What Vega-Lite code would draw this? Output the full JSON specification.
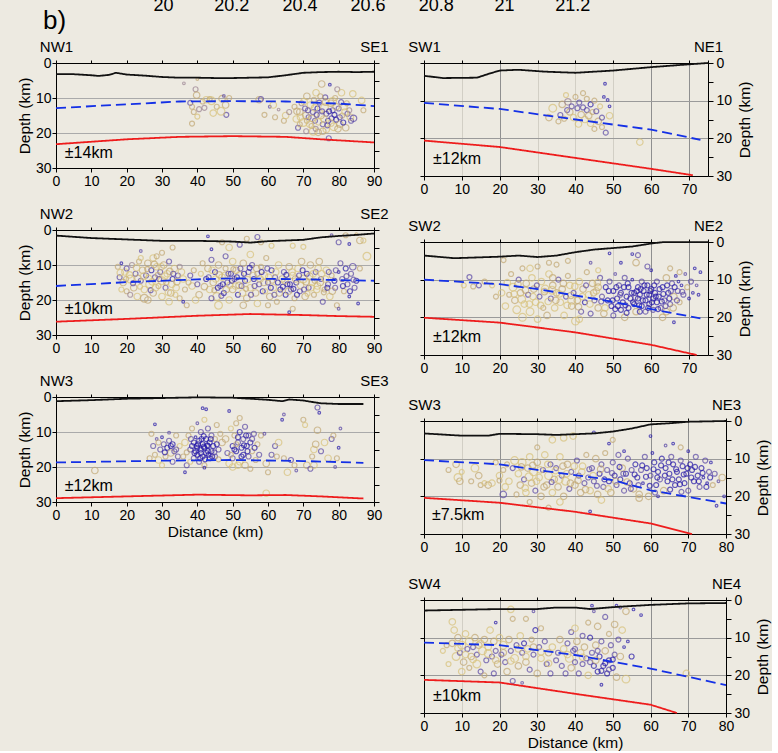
{
  "$schema": "https://vega.github.io/schema/vega-lite/v6.json",
  "background": "#edeae1",
  "padding": {"left": 17, "top": -4, "right": 0, "bottom": 0},
  "config": {
    "font": "Liberation Sans",
    "view": {"stroke": null},
    "axis": {"labelFontSize": 14, "labelColor": "#000", "titleFontSize": 15.5, "titleFontWeight": "normal", "titleColor": "#000", "domainColor": "#000", "tickColor": "#000", "grid": false, "labelFont": "Liberation Sans", "titleFont": "Liberation Sans", "labelFlush": false, "labelOverlap": false},
    "text": {"font": "Liberation Sans"},
    "point": {"filled": false, "strokeWidth": 1.2}
  },
  "datasets": {
    "nw1L": [
      {"k":"t","d":0,"z":3.2},{"k":"t","d":5,"z":3.2},{"k":"t","d":10,"z":3.5},{"k":"t","d":12,"z":3.7},{"k":"t","d":15,"z":3.4},{"k":"t","d":17,"z":2.8},{"k":"t","d":20,"z":3.3},{"k":"t","d":25,"z":3.6},{"k":"t","d":30,"z":4.0},{"k":"t","d":35,"z":4.2},{"k":"t","d":40,"z":4.2},{"k":"t","d":45,"z":4.3},{"k":"t","d":50,"z":4.3},{"k":"t","d":55,"z":4.2},{"k":"t","d":60,"z":4.1},{"k":"t","d":65,"z":3.5},{"k":"t","d":70,"z":2.8},{"k":"t","d":75,"z":2.6},{"k":"t","d":80,"z":2.5},{"k":"t","d":85,"z":2.6},{"k":"t","d":90,"z":2.5},
      {"k":"m","d":0,"z":12.9},{"k":"m","d":20,"z":11.8},{"k":"m","d":35,"z":11},{"k":"m","d":50,"z":10.9},{"k":"m","d":65,"z":11},{"k":"m","d":80,"z":11.6},{"k":"m","d":90,"z":12.3},
      {"k":"r","d":0,"z":23.2},{"k":"r","d":20,"z":21.8},{"k":"r","d":35,"z":21.1},{"k":"r","d":50,"z":20.9},{"k":"r","d":65,"z":21.1},{"k":"r","d":75,"z":21.8},{"k":"r","d":90,"z":22.7}
    ],
    "nw2L": [
      {"k":"t","d":0,"z":1.6},{"k":"t","d":10,"z":2.3},{"k":"t","d":20,"z":2.7},{"k":"t","d":30,"z":3.1},{"k":"t","d":40,"z":3.1},{"k":"t","d":50,"z":3.3},{"k":"t","d":55,"z":3.6},{"k":"t","d":60,"z":3.2},{"k":"t","d":70,"z":2.8},{"k":"t","d":75,"z":2.1},{"k":"t","d":80,"z":1.7},{"k":"t","d":85,"z":1.4},{"k":"t","d":90,"z":1.0},
      {"k":"m","d":0,"z":16},{"k":"m","d":20,"z":14.9},{"k":"m","d":40,"z":14.1},{"k":"m","d":50,"z":13.8},{"k":"m","d":70,"z":14.1},{"k":"m","d":90,"z":14.5},
      {"k":"r","d":0,"z":26.2},{"k":"r","d":20,"z":25.4},{"k":"r","d":40,"z":24.5},{"k":"r","d":55,"z":24},{"k":"r","d":70,"z":24.3},{"k":"r","d":80,"z":24.6},{"k":"r","d":90,"z":24.8}
    ],
    "nw3L": [
      {"k":"t","d":0,"z":1.2},{"k":"t","d":10,"z":0.9},{"k":"t","d":20,"z":0.5},{"k":"t","d":30,"z":0.3},{"k":"t","d":40,"z":0.1},{"k":"t","d":50,"z":0.2},{"k":"t","d":60,"z":0.8},{"k":"t","d":64,"z":1.2},{"k":"t","d":66,"z":0.7},{"k":"t","d":70,"z":1.0},{"k":"t","d":73,"z":1.5},{"k":"t","d":75,"z":1.8},{"k":"t","d":80,"z":2.0},{"k":"t","d":87,"z":2.0},
      {"k":"m","d":0,"z":18.7},{"k":"m","d":30,"z":18.2},{"k":"m","d":50,"z":18},{"k":"m","d":70,"z":18.3},{"k":"m","d":87,"z":18.8},
      {"k":"r","d":0,"z":28.9},{"k":"r","d":20,"z":28.4},{"k":"r","d":40,"z":27.9},{"k":"r","d":55,"z":28.1},{"k":"r","d":65,"z":28},{"k":"r","d":75,"z":28.4},{"k":"r","d":87,"z":29}
    ],
    "sw1L": [
      {"k":"t","d":0,"z":3.4},{"k":"t","d":5,"z":4.0},{"k":"t","d":14,"z":3.9},{"k":"t","d":17,"z":2.9},{"k":"t","d":20,"z":2.0},{"k":"t","d":25,"z":1.8},{"k":"t","d":32,"z":2.3},{"k":"t","d":40,"z":2.6},{"k":"t","d":50,"z":2.0},{"k":"t","d":60,"z":1.1},{"k":"t","d":70,"z":0.35},{"k":"t","d":75,"z":0},
      {"k":"m","d":0,"z":10.6},{"k":"m","d":20,"z":12.2},{"k":"m","d":40,"z":15},{"k":"m","d":60,"z":17.7},{"k":"m","d":73,"z":20.4},
      {"k":"r","d":0,"z":20.6},{"k":"r","d":20,"z":22.3},{"k":"r","d":40,"z":25.2},{"k":"r","d":60,"z":28.1},{"k":"r","d":71,"z":29.8}
    ],
    "sw2L": [
      {"k":"t","d":0,"z":3.6},{"k":"t","d":8,"z":4.3},{"k":"t","d":20,"z":3.9},{"k":"t","d":25,"z":3.6},{"k":"t","d":30,"z":4.0},{"k":"t","d":35,"z":3.6},{"k":"t","d":40,"z":2.7},{"k":"t","d":45,"z":2.0},{"k":"t","d":50,"z":1.6},{"k":"t","d":55,"z":1.2},{"k":"t","d":60,"z":0.4},{"k":"t","d":63,"z":0.05},{"k":"t","d":75,"z":0.05},
      {"k":"m","d":0,"z":10},{"k":"m","d":20,"z":11.2},{"k":"m","d":30,"z":12.5},{"k":"m","d":50,"z":15.9},{"k":"m","d":60,"z":17.8},{"k":"m","d":73,"z":20.3},
      {"k":"r","d":0,"z":20.1},{"k":"r","d":20,"z":21.4},{"k":"r","d":40,"z":24},{"k":"r","d":60,"z":27.3},{"k":"r","d":72,"z":30}
    ],
    "sw3L": [
      {"k":"t","d":0,"z":3.3},{"k":"t","d":10,"z":3.9},{"k":"t","d":17,"z":3.9},{"k":"t","d":20,"z":3.4},{"k":"t","d":30,"z":3.5},{"k":"t","d":35,"z":3.7},{"k":"t","d":40,"z":3.5},{"k":"t","d":45,"z":3.3},{"k":"t","d":50,"z":2.8},{"k":"t","d":55,"z":2.0},{"k":"t","d":60,"z":0.9},{"k":"t","d":65,"z":0.6},{"k":"t","d":70,"z":0.2},{"k":"t","d":80,"z":0},
      {"k":"m","d":0,"z":10.4},{"k":"m","d":20,"z":11.5},{"k":"m","d":30,"z":13},{"k":"m","d":50,"z":15.7},{"k":"m","d":60,"z":18.4},{"k":"m","d":80,"z":21.9},
      {"k":"r","d":0,"z":20.4},{"k":"r","d":20,"z":21.7},{"k":"r","d":40,"z":24.1},{"k":"r","d":60,"z":27.2},{"k":"r","d":71,"z":30}
    ],
    "sw4L": [
      {"k":"t","d":0,"z":2.8},{"k":"t","d":10,"z":2.6},{"k":"t","d":20,"z":2.4},{"k":"t","d":30,"z":2.4},{"k":"t","d":35,"z":2.0},{"k":"t","d":40,"z":2.0},{"k":"t","d":44,"z":2.4},{"k":"t","d":50,"z":1.9},{"k":"t","d":60,"z":1.3},{"k":"t","d":70,"z":0.9},{"k":"t","d":80,"z":0.8},
      {"k":"m","d":0,"z":11.3},{"k":"m","d":20,"z":12},{"k":"m","d":40,"z":14.6},{"k":"m","d":60,"z":18.2},{"k":"m","d":80,"z":22.6},
      {"k":"r","d":0,"z":21.2},{"k":"r","d":20,"z":21.9},{"k":"r","d":40,"z":24.9},{"k":"r","d":60,"z":27.8},{"k":"r","d":67,"z":30}
    ],
    "nw1": [
      {"d":36.2,"z":5.8,"c":2,"s":1},{"d":38,"z":11.4,"c":3,"s":2},{"d":38.5,"z":12.5,"c":1,"s":2},{"d":39.5,"z":7.5,"c":2,"s":2},{"d":39.8,"z":9.2,"c":1,"s":3},{"d":40,"z":4.6,"c":1,"s":1},{"d":39,"z":14,"c":1,"s":2},{"d":40.5,"z":13.2,"c":2,"s":2},{"d":41.5,"z":11,"c":1,"s":2},{"d":42,"z":12.8,"c":2,"s":2},{"d":42.5,"z":10.5,"c":0,"s":3},{"d":43.5,"z":10.3,"c":1,"s":2},{"d":44,"z":10.8,"c":0,"s":4},{"d":44.5,"z":14.3,"c":0,"s":3},{"d":45.5,"z":12.5,"c":1,"s":2},{"d":47,"z":10.2,"c":1,"s":3},{"d":47.5,"z":9.4,"c":3,"s":1},{"d":48,"z":12,"c":1,"s":3},{"d":48.2,"z":14.8,"c":3,"s":2},{"d":49,"z":10,"c":1,"s":2},{"d":38.5,"z":17.3,"c":1,"s":2},{"d":40,"z":15.3,"c":0,"s":2},{"d":46.7,"z":13.8,"c":0,"s":4},
      {"d":57.5,"z":10.5,"c":1,"s":3},{"d":58,"z":10.3,"c":3,"s":2},{"d":59,"z":14.8,"c":1,"s":2},{"d":60.5,"z":12.5,"c":3,"s":1},{"d":61.5,"z":12,"c":0,"s":3},{"d":62,"z":15.5,"c":1,"s":2},{"d":63,"z":13.3,"c":2,"s":1},{"d":64.5,"z":16.5,"c":1,"s":2},{"d":65,"z":15,"c":0,"s":3},{"d":66,"z":14,"c":2,"s":2},
      {"d":67.5,"z":12.5,"c":1,"s":2},{"d":68,"z":16,"c":0,"s":3},{"d":68.5,"z":18.5,"c":3,"s":2},{"d":69,"z":14,"c":1,"s":3},{"d":69.5,"z":11.5,"c":2,"s":2},{"d":70,"z":17,"c":0,"s":4},{"d":70.5,"z":13,"c":3,"s":2},{"d":70.8,"z":19.5,"c":2,"s":2},{"d":71,"z":9.5,"c":1,"s":3},{"d":71.5,"z":15.5,"c":3,"s":2},{"d":72,"z":12,"c":0,"s":3},{"d":72.3,"z":18,"c":1,"s":2},{"d":72.7,"z":14,"c":3,"s":2},{"d":73,"z":10.5,"c":1,"s":2},{"d":73.3,"z":16.5,"c":3,"s":2},{"d":73.6,"z":8.5,"c":0,"s":3},{"d":74,"z":13,"c":4,"s":2},{"d":74.2,"z":19.8,"c":1,"s":3},{"d":74.5,"z":11.3,"c":3,"s":2},{"d":75,"z":15,"c":1,"s":3},{"d":75.2,"z":6,"c":1,"s":3},{"d":75.5,"z":17.5,"c":3,"s":2},{"d":76,"z":12.8,"c":0,"s":4},{"d":76.2,"z":9.8,"c":3,"s":2},{"d":76.5,"z":14.5,"c":3,"s":2},{"d":77,"z":16.5,"c":4,"s":2},{"d":77.2,"z":21.5,"c":3,"s":2},{"d":77.5,"z":6.2,"c":4,"s":1},{"d":77.8,"z":11.5,"c":1,"s":3},{"d":78,"z":15.8,"c":3,"s":2},{"d":78.3,"z":13.5,"c":3,"s":2},{"d":78.6,"z":18.2,"c":0,"s":4},{"d":79,"z":10,"c":1,"s":2},{"d":79.3,"z":16.2,"c":4,"s":2},{"d":79.6,"z":7.5,"c":2,"s":2},{"d":80,"z":13,"c":3,"s":2},{"d":80.3,"z":17.5,"c":1,"s":3},{"d":80.7,"z":11.2,"c":3,"s":2},{"d":81,"z":15,"c":1,"s":2},{"d":81.5,"z":12.5,"c":0,"s":3},{"d":82,"z":18.5,"c":1,"s":3},{"d":82.5,"z":14.5,"c":3,"s":2},{"d":83,"z":13.5,"c":2,"s":2},{"d":83.5,"z":16.5,"c":3,"s":2},{"d":84,"z":8.8,"c":0,"s":3},{"d":86.5,"z":10.7,"c":0,"s":3},{"d":87,"z":13.5,"c":1,"s":2},{"d":76.5,"z":19,"c":0,"s":3},{"d":73.5,"z":18.8,"c":2,"s":2},{"d":71,"z":16.5,"c":1,"s":2},{"d":69,"z":17.5,"c":1,"s":2},
      {"d":68.2,"z":13.8,"c":1,"s":3},{"d":69.2,"z":15.5,"c":0,"s":3},{"d":70.2,"z":11,"c":0,"s":3},{"d":70.7,"z":15,"c":1,"s":3},{"d":71.3,"z":13.5,"c":3,"s":2},{"d":71.8,"z":17.5,"c":0,"s":3},{"d":72.5,"z":15.8,"c":1,"s":3},{"d":73.2,"z":12.8,"c":0,"s":3},{"d":73.8,"z":14.8,"c":3,"s":2},{"d":74.3,"z":16.8,"c":0,"s":3},{"d":74.8,"z":9.5,"c":1,"s":2},{"d":75.3,"z":13.8,"c":3,"s":2},{"d":75.8,"z":16,"c":0,"s":3},{"d":76.3,"z":11.2,"c":1,"s":3},{"d":76.8,"z":17.8,"c":3,"s":2},{"d":77.3,"z":13.8,"c":4,"s":2},{"d":77.8,"z":17.2,"c":0,"s":3},{"d":78.3,"z":11,"c":0,"s":4},{"d":78.8,"z":14.8,"c":4,"s":2},{"d":79.3,"z":12.5,"c":1,"s":3},{"d":79.8,"z":18.8,"c":1,"s":3},{"d":80.3,"z":15.5,"c":3,"s":2},{"d":80.8,"z":8.5,"c":0,"s":3},{"d":81.3,"z":17,"c":4,"s":2},{"d":81.8,"z":14,"c":0,"s":3},{"d":82.3,"z":11.5,"c":1,"s":2},{"d":83.3,"z":15.5,"c":0,"s":3},{"d":84.2,"z":15.8,"c":3,"s":3},{"d":72.8,"z":19.5,"c":0,"s":4},{"d":75.5,"z":19.5,"c":1,"s":3}
    ],
    "nw2": [
      {"d":43,"z":1.8,"c":4,"s":1},{"d":44,"z":5.5,"c":4,"s":1},{"d":47,"z":3.5,"c":1,"s":2},{"d":49,"z":5,"c":0,"s":3},{"d":52,"z":4.2,"c":3,"s":2},{"d":54,"z":2.5,"c":1,"s":2},{"d":57,"z":2,"c":3,"s":2},{"d":58,"z":3.5,"c":1,"s":2},{"d":61,"z":4.5,"c":0,"s":2},{"d":67,"z":4.5,"c":0,"s":2},{"d":70,"z":4.8,"c":0,"s":2},{"d":78,"z":1.5,"c":3,"s":1},{"d":80,"z":3.5,"c":3,"s":2},{"d":82,"z":1.5,"c":1,"s":2},{"d":83,"z":4,"c":4,"s":1},{"d":86,"z":3,"c":1,"s":3},{"d":87,"z":3,"c":0,"s":2},{"d":85,"z":1.2,"c":1,"s":1},{"d":88,"z":7.5,"c":0,"s":4},{"d":30,"z":6.5,"c":1,"s":2},{"d":33,"z":5,"c":1,"s":2},{"d":24,"z":6,"c":3,"s":1},
      {"d":17.5,"z":10.5,"c":1,"s":2},{"d":18,"z":13.5,"c":3,"s":2},{"d":18.5,"z":9.5,"c":4,"s":1},{"d":19,"z":15,"c":1,"s":3},{"d":19.5,"z":12,"c":0,"s":3},{"d":20,"z":17.5,"c":1,"s":2},{"d":20,"z":11,"c":3,"s":2},{"d":18.5,"z":17,"c":0,"s":2},
      {"d":21,"z":14,"c":0,"s":4},{"d":21.5,"z":10,"c":2,"s":2},{"d":22,"z":16.5,"c":1,"s":3},{"d":22.5,"z":12.5,"c":3,"s":2},{"d":23,"z":19,"c":0,"s":3},{"d":23.5,"z":9,"c":1,"s":2},{"d":24,"z":14.5,"c":3,"s":2},{"d":24.5,"z":11.5,"c":1,"s":3},{"d":25,"z":17,"c":0,"s":3},{"d":25,"z":19.5,"c":1,"s":4},{"d":21,"z":18.5,"c":2,"s":2},{"d":24,"z":8,"c":0,"s":2},
      {"d":25.5,"z":13,"c":3,"s":2},{"d":26,"z":9.5,"c":1,"s":3},{"d":26.5,"z":15.5,"c":0,"s":4},{"d":27,"z":11.5,"c":4,"s":2},{"d":27.5,"z":8,"c":0,"s":3},{"d":27.5,"z":18,"c":1,"s":3},{"d":28,"z":13.5,"c":3,"s":2},{"d":28.5,"z":10.5,"c":0,"s":3},{"d":29,"z":16,"c":1,"s":2},{"d":29.5,"z":12,"c":3,"s":2},{"d":30,"z":19,"c":0,"s":3},{"d":30,"z":14.5,"c":0,"s":4},{"d":26,"z":20,"c":1,"s":3},{"d":28.5,"z":7.5,"c":1,"s":2},
      {"d":30.5,"z":10,"c":1,"s":3},{"d":31,"z":16.5,"c":3,"s":2},{"d":31.5,"z":12.5,"c":0,"s":3},{"d":32,"z":9,"c":3,"s":2},{"d":32.5,"z":18,"c":1,"s":3},{"d":33,"z":14,"c":4,"s":2},{"d":33.5,"z":11,"c":0,"s":3},{"d":34,"z":16.5,"c":0,"s":3},{"d":34.5,"z":13,"c":3,"s":2},{"d":35,"z":19.5,"c":1,"s":2},{"d":32,"z":20.5,"c":0,"s":3},{"d":35,"z":10.5,"c":2,"s":2},
      {"d":36,"z":14,"c":0,"s":3},{"d":36.5,"z":17,"c":1,"s":2},{"d":37,"z":21.5,"c":1,"s":2},{"d":38,"z":13,"c":3,"s":2},{"d":38.5,"z":16,"c":0,"s":3},{"d":39,"z":11.5,"c":1,"s":2},{"d":40,"z":15.5,"c":3,"s":2},{"d":40.5,"z":18.5,"c":1,"s":3},{"d":41,"z":12.5,"c":0,"s":2},{"d":41.5,"z":9.5,"c":1,"s":2},{"d":36,"z":20.5,"c":4,"s":1},{"d":39.5,"z":20,"c":0,"s":3},
      {"d":42.5,"z":14,"c":4,"s":2},{"d":43,"z":11,"c":1,"s":3},{"d":43.5,"z":17,"c":0,"s":3},{"d":44,"z":8.5,"c":3,"s":2},{"d":44.5,"z":15,"c":1,"s":3},{"d":45,"z":12,"c":4,"s":2},{"d":45.5,"z":19,"c":0,"s":4},{"d":46,"z":10,"c":1,"s":3},{"d":46.5,"z":16,"c":3,"s":2},{"d":47,"z":13.5,"c":0,"s":3},{"d":47.5,"z":18,"c":4,"s":2},{"d":48,"z":11,"c":1,"s":2},{"d":48.5,"z":15,"c":3,"s":2},{"d":49,"z":20,"c":0,"s":3},{"d":49.5,"z":12.5,"c":4,"s":2},{"d":50,"z":17,"c":1,"s":3},{"d":50,"z":9,"c":0,"s":3},{"d":46,"z":21.5,"c":0,"s":4},{"d":48,"z":7.5,"c":3,"s":2},{"d":44,"z":19.5,"c":3,"s":2},
      {"d":50.5,"z":14,"c":3,"s":2},{"d":51,"z":11.5,"c":1,"s":3},{"d":51.5,"z":18.5,"c":4,"s":2},{"d":52,"z":13,"c":0,"s":4},{"d":52.5,"z":16,"c":3,"s":2},{"d":53,"z":9.5,"c":1,"s":3},{"d":53.5,"z":14.5,"c":4,"s":2},{"d":54,"z":19.5,"c":1,"s":3},{"d":54.5,"z":12,"c":3,"s":2},{"d":55,"z":16.5,"c":0,"s":3},{"d":55.5,"z":10,"c":3,"s":2},{"d":56,"z":14,"c":4,"s":2},{"d":56.5,"z":18,"c":1,"s":3},{"d":57,"z":21,"c":0,"s":3},{"d":57,"z":12.5,"c":2,"s":2},{"d":53,"z":21.5,"c":1,"s":3},{"d":55,"z":7,"c":0,"s":3},
      {"d":57.5,"z":15.5,"c":3,"s":2},{"d":58,"z":10.5,"c":1,"s":2},{"d":58.5,"z":17.5,"c":4,"s":2},{"d":59,"z":13,"c":0,"s":3},{"d":59.5,"z":8,"c":1,"s":2},{"d":60,"z":15,"c":3,"s":2},{"d":60.5,"z":19,"c":1,"s":3},{"d":61,"z":11.5,"c":4,"s":2},{"d":61.5,"z":16.5,"c":0,"s":3},{"d":62,"z":13.5,"c":3,"s":2},{"d":62.5,"z":20.5,"c":1,"s":2},{"d":63,"z":10,"c":0,"s":3},{"d":63.5,"z":17,"c":4,"s":2},{"d":64,"z":14,"c":1,"s":3},{"d":60,"z":21.5,"c":1,"s":2},
      {"d":64.5,"z":12,"c":3,"s":2},{"d":65,"z":18.5,"c":4,"s":2},{"d":65.5,"z":15.5,"c":4,"s":2},{"d":66,"z":10.5,"c":1,"s":3},{"d":66.5,"z":17,"c":3,"s":2},{"d":67,"z":13,"c":0,"s":3},{"d":67.5,"z":19.5,"c":1,"s":2},{"d":68,"z":15,"c":4,"s":2},{"d":68.5,"z":11,"c":0,"s":3},{"d":69,"z":17.5,"c":3,"s":2},{"d":69.5,"z":9,"c":1,"s":3},{"d":70,"z":14,"c":0,"s":4},{"d":70.5,"z":19,"c":1,"s":3},{"d":71,"z":12.5,"c":4,"s":2},{"d":71.5,"z":16.5,"c":3,"s":2},{"d":72,"z":10,"c":1,"s":3},{"d":67,"z":22.5,"c":1,"s":2},{"d":66,"z":23.5,"c":4,"s":1},
      {"d":72.5,"z":15,"c":0,"s":3},{"d":73,"z":18.5,"c":1,"s":2},{"d":73.5,"z":12,"c":3,"s":2},{"d":74,"z":16,"c":0,"s":3},{"d":74.5,"z":9,"c":1,"s":3},{"d":75,"z":14,"c":3,"s":2},{"d":75.5,"z":20.5,"c":3,"s":2},{"d":76,"z":17,"c":1,"s":2},{"d":76.5,"z":11.5,"c":0,"s":3},{"d":77,"z":15.5,"c":3,"s":2},{"d":77.5,"z":19,"c":0,"s":3},{"d":78,"z":13,"c":1,"s":2},{"d":79,"z":16.5,"c":3,"s":2},{"d":79.5,"z":21.5,"c":1,"s":2},{"d":80,"z":12,"c":4,"s":1},
      {"d":80.5,"z":9.5,"c":3,"s":2},{"d":81,"z":14,"c":3,"s":2},{"d":81.5,"z":17.5,"c":1,"s":2},{"d":82,"z":11,"c":4,"s":2},{"d":82.5,"z":15.5,"c":3,"s":2},{"d":83,"z":19,"c":4,"s":1},{"d":83.5,"z":12.5,"c":3,"s":2},{"d":84,"z":10.5,"c":3,"s":3},{"d":84.5,"z":16.5,"c":3,"s":2},{"d":85,"z":14.5,"c":4,"s":2},{"d":85.5,"z":21,"c":4,"s":1},{"d":80,"z":22.5,"c":3,"s":1},{"d":86,"z":11,"c":1,"s":2},
      {"d":18.2,"z":12.2,"c":0,"s":3},{"d":19.8,"z":14,"c":1,"s":2},{"d":20.8,"z":12.8,"c":0,"s":3},{"d":21.8,"z":15.2,"c":3,"s":2},{"d":22.8,"z":10.8,"c":0,"s":3},{"d":23.2,"z":13.8,"c":1,"s":3},{"d":23.8,"z":16.2,"c":0,"s":2},{"d":24.8,"z":13.2,"c":0,"s":3},{"d":25.8,"z":11.2,"c":1,"s":2},{"d":26.2,"z":13.8,"c":0,"s":3},{"d":26.8,"z":17.2,"c":3,"s":2},{"d":27.2,"z":14.8,"c":0,"s":3},{"d":27.8,"z":9.8,"c":1,"s":3},{"d":28.2,"z":16.5,"c":0,"s":3},{"d":28.8,"z":12.8,"c":1,"s":2},{"d":29.2,"z":14,"c":3,"s":2},{"d":29.8,"z":10.5,"c":0,"s":3},{"d":30.8,"z":13.2,"c":0,"s":3},{"d":31.2,"z":15,"c":1,"s":2},{"d":31.8,"z":17.8,"c":0,"s":3},{"d":32.2,"z":11.8,"c":1,"s":3},{"d":32.8,"z":15.5,"c":0,"s":3},{"d":33.2,"z":12.5,"c":3,"s":2},{"d":33.8,"z":18.5,"c":0,"s":2},{"d":34.2,"z":14.8,"c":1,"s":3},{"d":35.5,"z":12,"c":0,"s":3},{"d":37.5,"z":15,"c":1,"s":2},{"d":42,"z":16.2,"c":1,"s":3},{"d":43.2,"z":13.5,"c":3,"s":2},{"d":44.2,"z":11.5,"c":0,"s":3},{"d":44.8,"z":17.2,"c":1,"s":2},{"d":45.2,"z":14,"c":0,"s":3},{"d":45.8,"z":16.5,"c":4,"s":2},{"d":46.2,"z":12.8,"c":1,"s":3},{"d":46.8,"z":18.8,"c":3,"s":2},{"d":47.2,"z":15.5,"c":4,"s":2},{"d":47.8,"z":13,"c":0,"s":3},{"d":48.2,"z":17,"c":1,"s":3},{"d":48.8,"z":12.5,"c":3,"s":2},{"d":49.2,"z":15.8,"c":0,"s":3},{"d":49.8,"z":14.5,"c":4,"s":2},{"d":50.2,"z":11.2,"c":1,"s":2},{"d":50.8,"z":16,"c":0,"s":3},{"d":51.2,"z":13.5,"c":4,"s":2},{"d":51.8,"z":15.8,"c":1,"s":3},{"d":52.2,"z":11,"c":3,"s":2},{"d":52.8,"z":18,"c":0,"s":3},{"d":53.2,"z":12.5,"c":4,"s":2},{"d":53.8,"z":16.8,"c":1,"s":2},{"d":54.2,"z":14.2,"c":0,"s":3},{"d":54.8,"z":10.8,"c":4,"s":2},{"d":55.2,"z":18.5,"c":3,"s":2},{"d":55.8,"z":13,"c":0,"s":3},{"d":56.2,"z":16,"c":3,"s":2},{"d":56.8,"z":11,"c":1,"s":3},{"d":57.8,"z":14,"c":0,"s":3},{"d":58.2,"z":12,"c":4,"s":2},{"d":58.8,"z":15,"c":1,"s":3},{"d":59.2,"z":17.5,"c":0,"s":2},{"d":59.8,"z":11,"c":3,"s":2},{"d":60.2,"z":13.5,"c":0,"s":3},{"d":60.8,"z":16.5,"c":4,"s":2},{"d":61.2,"z":14.5,"c":1,"s":2},{"d":61.8,"z":18.5,"c":3,"s":2},{"d":62.2,"z":12,"c":0,"s":3},{"d":62.8,"z":15,"c":4,"s":2},{"d":63.2,"z":18,"c":1,"s":3},{"d":64.2,"z":16.2,"c":4,"s":2},{"d":64.8,"z":14.5,"c":0,"s":3},{"d":65.2,"z":12.8,"c":4,"s":2},{"d":65.8,"z":17.5,"c":1,"s":3},{"d":66.2,"z":15.5,"c":4,"s":2},{"d":66.8,"z":12,"c":0,"s":3},{"d":67.2,"z":16.8,"c":4,"s":2},{"d":67.8,"z":14,"c":1,"s":3},{"d":68.2,"z":18.5,"c":4,"s":2},{"d":68.8,"z":13,"c":3,"s":2},{"d":69.2,"z":15.8,"c":0,"s":3},{"d":69.8,"z":11.5,"c":4,"s":2},{"d":70.2,"z":17,"c":3,"s":2},{"d":70.8,"z":14.8,"c":1,"s":3},{"d":71.2,"z":18.2,"c":0,"s":2},{"d":71.8,"z":13.2,"c":1,"s":3},{"d":72.2,"z":16.5,"c":0,"s":3},{"d":72.8,"z":12.5,"c":0,"s":3},{"d":73.2,"z":14.5,"c":1,"s":2},{"d":73.8,"z":17,"c":0,"s":3},{"d":74.2,"z":11,"c":0,"s":3},{"d":74.8,"z":15,"c":1,"s":3},{"d":75.2,"z":12.5,"c":0,"s":3},{"d":75.8,"z":17.8,"c":1,"s":2},{"d":76.2,"z":14,"c":0,"s":3},{"d":76.8,"z":16.5,"c":4,"s":2},{"d":77.2,"z":12,"c":3,"s":2},{"d":78.2,"z":17.5,"c":1,"s":3},{"d":78.8,"z":14.5,"c":4,"s":2},{"d":79.2,"z":11.5,"c":3,"s":2},{"d":81.2,"z":16,"c":4,"s":2},{"d":82.2,"z":13.2,"c":3,"s":2},{"d":83.2,"z":17.5,"c":4,"s":2},{"d":84.2,"z":14.2,"c":3,"s":2}
    ],
    "nw3": [
      {"d":27,"z":10.5,"c":1,"s":2},{"d":27.5,"z":14,"c":3,"s":2},{"d":28,"z":16.5,"c":1,"s":2},{"d":28.5,"z":12,"c":3,"s":1},{"d":29,"z":18,"c":0,"s":3},{"d":29.5,"z":15,"c":3,"s":2},{"d":30,"z":11.5,"c":4,"s":1},{"d":30.5,"z":13.5,"c":3,"s":2},{"d":31,"z":17,"c":1,"s":2},{"d":31.5,"z":14.5,"c":4,"s":2},{"d":32,"z":12.5,"c":3,"s":2},{"d":32.5,"z":16,"c":1,"s":3},{"d":33,"z":18.5,"c":3,"s":2},{"d":33,"z":13.5,"c":4,"s":2},{"d":33.5,"z":15.5,"c":3,"s":2},{"d":34,"z":11,"c":1,"s":2},{"d":34.5,"z":17,"c":3,"s":2},{"d":35,"z":14,"c":0,"s":2},{"d":28,"z":7.8,"c":4,"s":1},{"d":32,"z":10.2,"c":3,"s":1},{"d":30,"z":19.5,"c":0,"s":2},{"d":26.5,"z":17.5,"c":1,"s":2},
      {"d":36,"z":17,"c":1,"s":2},{"d":36.5,"z":13,"c":0,"s":3},{"d":37,"z":19.5,"c":3,"s":2},{"d":37.5,"z":11,"c":1,"s":2},{"d":38,"z":15,"c":3,"s":2},{"d":38.5,"z":9,"c":1,"s":2},{"d":39,"z":13,"c":4,"s":2},{"d":39,"z":17.5,"c":3,"s":2},{"d":39.5,"z":11.5,"c":4,"s":1},{"d":40,"z":14.5,"c":4,"s":2},{"d":40,"z":16.5,"c":4,"s":2},{"d":40.5,"z":12.5,"c":4,"s":2},{"d":40.5,"z":18.5,"c":3,"s":2},{"d":41,"z":15,"c":4,"s":2},{"d":41,"z":10,"c":3,"s":2},{"d":41.5,"z":13.5,"c":4,"s":2},{"d":41.5,"z":17,"c":4,"s":2},{"d":42,"z":14.5,"c":4,"s":2},{"d":42,"z":19.5,"c":1,"s":2},{"d":42.5,"z":12,"c":4,"s":2},{"d":42.5,"z":16,"c":4,"s":2},{"d":43,"z":14,"c":4,"s":2},{"d":43,"z":9,"c":3,"s":2},{"d":43.5,"z":17.5,"c":4,"s":2},{"d":43.5,"z":13,"c":4,"s":2},{"d":44,"z":15.5,"c":4,"s":2},{"d":44,"z":11,"c":3,"s":2},{"d":44.5,"z":14,"c":4,"s":2},{"d":45,"z":17,"c":3,"s":2},{"d":45,"z":12,"c":1,"s":2},{"d":45.5,"z":8,"c":1,"s":2},{"d":46,"z":15,"c":3,"s":2},{"d":46.5,"z":10.5,"c":1,"s":2},{"d":47,"z":13,"c":1,"s":3},{"d":40,"z":7.5,"c":3,"s":1},{"d":42,"z":6.5,"c":0,"s":2},{"d":41.5,"z":3.2,"c":4,"s":1},{"d":42.5,"z":3.5,"c":4,"s":1},{"d":36.5,"z":21.5,"c":4,"s":1},{"d":42,"z":20.2,"c":4,"s":1},{"d":38,"z":18.5,"c":0,"s":2},{"d":39.5,"z":15.5,"c":4,"s":2},{"d":41,"z":16,"c":4,"s":2},{"d":43,"z":15.5,"c":4,"s":2},{"d":41.8,"z":11.2,"c":4,"s":2},
      {"d":48,"z":12,"c":1,"s":3},{"d":48.5,"z":16,"c":3,"s":2},{"d":49,"z":19,"c":0,"s":3},{"d":49.5,"z":9,"c":0,"s":2},{"d":50,"z":14,"c":4,"s":2},{"d":50,"z":17.5,"c":3,"s":2},{"d":50.5,"z":11,"c":1,"s":2},{"d":51,"z":15.5,"c":4,"s":2},{"d":51,"z":7.5,"c":1,"s":2},{"d":51.5,"z":13,"c":3,"s":2},{"d":52,"z":18.5,"c":0,"s":3},{"d":52,"z":10,"c":4,"s":2},{"d":52.5,"z":14.5,"c":4,"s":2},{"d":53,"z":16.5,"c":4,"s":2},{"d":53,"z":12,"c":3,"s":2},{"d":53.5,"z":19.5,"c":1,"s":3},{"d":53.5,"z":8.5,"c":3,"s":2},{"d":54,"z":14,"c":4,"s":2},{"d":54.5,"z":11,"c":3,"s":2},{"d":54.5,"z":17,"c":3,"s":2},{"d":55,"z":13,"c":4,"s":2},{"d":55.5,"z":15.5,"c":1,"s":2},{"d":56,"z":10.5,"c":3,"s":2},{"d":56.5,"z":18,"c":1,"s":2},{"d":57,"z":13.5,"c":1,"s":2},{"d":57.5,"z":16.5,"c":3,"s":2},{"d":58,"z":11,"c":1,"s":2},{"d":50,"z":20,"c":0,"s":3},{"d":52,"z":6,"c":1,"s":2},{"d":55,"z":20.5,"c":1,"s":2},{"d":51.5,"z":19.5,"c":0,"s":3},{"d":49,"z":4,"c":4,"s":1},
      {"d":59,"z":10.5,"c":3,"s":1},{"d":59.5,"z":19,"c":1,"s":3},{"d":60,"z":21.5,"c":1,"s":2},{"d":61,"z":16.5,"c":3,"s":2},{"d":62,"z":14,"c":3,"s":2},{"d":62.5,"z":17,"c":1,"s":2},{"d":63,"z":13,"c":0,"s":3},{"d":64,"z":6.5,"c":4,"s":1},{"d":64.5,"z":5,"c":3,"s":1},{"d":64.5,"z":17.5,"c":1,"s":2},{"d":65.5,"z":21.5,"c":0,"s":3},{"d":66.5,"z":18,"c":3,"s":2},{"d":67.5,"z":19.5,"c":1,"s":2},{"d":68,"z":21,"c":3,"s":1},{"d":70,"z":6.5,"c":1,"s":2},{"d":70.5,"z":8,"c":0,"s":2},{"d":71,"z":19.5,"c":1,"s":3},{"d":72,"z":20.5,"c":3,"s":2},{"d":72.5,"z":17,"c":1,"s":2},{"d":73,"z":15,"c":0,"s":3},{"d":73,"z":19.5,"c":0,"s":3},{"d":73.5,"z":13.5,"c":1,"s":3},{"d":74,"z":9.5,"c":1,"s":3},{"d":74,"z":3,"c":3,"s":2},{"d":74.5,"z":4.5,"c":4,"s":1},{"d":75,"z":15.5,"c":3,"s":2},{"d":76,"z":13,"c":0,"s":3},{"d":77,"z":17.5,"c":0,"s":3},{"d":78,"z":12,"c":3,"s":2},{"d":78.5,"z":11,"c":1,"s":2},{"d":79,"z":20,"c":3,"s":1},{"d":80,"z":14.5,"c":4,"s":1},{"d":80.5,"z":9,"c":3,"s":1},{"d":79.5,"z":17.5,"c":1,"s":2},{"d":11,"z":21,"c":1,"s":3},{"d":59.5,"z":27.5,"c":0,"s":3},
      {"d":39.8,"z":14,"c":4,"s":2},{"d":40.2,"z":13.5,"c":4,"s":2},{"d":40.8,"z":17.5,"c":4,"s":2},{"d":41.2,"z":12,"c":4,"s":2},{"d":41.8,"z":14.2,"c":4,"s":2},{"d":42.2,"z":17.8,"c":4,"s":2},{"d":42.8,"z":13.8,"c":4,"s":2},{"d":43.2,"z":16.5,"c":4,"s":2},{"d":43.8,"z":12,"c":4,"s":2},{"d":44.2,"z":17,"c":4,"s":2},{"d":38.5,"z":14,"c":4,"s":2},{"d":38.2,"z":12,"c":3,"s":2},{"d":39.2,"z":16,"c":4,"s":2},{"d":44.8,"z":15.8,"c":3,"s":2},{"d":45.5,"z":13.5,"c":4,"s":2},{"d":37,"z":15.8,"c":1,"s":2},{"d":46,"z":17.8,"c":1,"s":2},{"d":50.5,"z":15,"c":4,"s":2},{"d":51.5,"z":11.5,"c":4,"s":2},{"d":52.5,"z":17,"c":4,"s":2},{"d":53.2,"z":13.8,"c":4,"s":2},{"d":53.8,"z":11,"c":4,"s":2},{"d":54.2,"z":15.5,"c":4,"s":2},{"d":55.5,"z":12,"c":3,"s":2},{"d":56.2,"z":14.5,"c":4,"s":2},{"d":49.5,"z":16.5,"c":1,"s":2},{"d":51,"z":13.5,"c":1,"s":2},{"d":30.8,"z":15.8,"c":4,"s":2},{"d":32.5,"z":14,"c":4,"s":2},{"d":29,"z":13,"c":1,"s":2},{"d":34,"z":15,"c":3,"s":2}
    ],
    "sw1": [
      {"d":33,"z":14.5,"c":1,"s":3},{"d":34,"z":12,"c":0,"s":4},{"d":35.5,"z":15.5,"c":1,"s":2},{"d":36,"z":13.8,"c":3,"s":2},{"d":36.5,"z":11,"c":1,"s":3},{"d":37,"z":14.8,"c":1,"s":2},{"d":37.5,"z":8.5,"c":0,"s":2},{"d":37.8,"z":12.5,"c":3,"s":2},{"d":38,"z":10.3,"c":2,"s":3},{"d":38.5,"z":13,"c":1,"s":3},{"d":39,"z":11.5,"c":3,"s":2},{"d":39.5,"z":14.5,"c":0,"s":3},{"d":40,"z":9,"c":1,"s":2},{"d":40.5,"z":12,"c":3,"s":2},{"d":40.8,"z":16.2,"c":0,"s":3},{"d":41,"z":10.5,"c":3,"s":2},{"d":41.5,"z":13.7,"c":1,"s":3},{"d":42,"z":8,"c":1,"s":2},{"d":42,"z":11.8,"c":3,"s":2},{"d":42.5,"z":15,"c":0,"s":3},{"d":43,"z":12.5,"c":3,"s":2},{"d":43,"z":9.5,"c":1,"s":2},{"d":43.5,"z":14,"c":1,"s":3},{"d":44,"z":11,"c":4,"s":2},{"d":44,"z":16,"c":0,"s":3},{"d":44.5,"z":13,"c":1,"s":2},{"d":45,"z":10,"c":1,"s":2},{"d":45.5,"z":12.8,"c":3,"s":2},{"d":46,"z":15.5,"c":1,"s":3},{"d":46.5,"z":11.5,"c":0,"s":2},{"d":47,"z":14.5,"c":3,"s":2},{"d":47,"z":17,"c":1,"s":2},{"d":47.5,"z":9,"c":4,"s":1},{"d":47.8,"z":5.5,"c":4,"s":1},{"d":48,"z":18.5,"c":3,"s":2},{"d":48.5,"z":9.8,"c":4,"s":1},{"d":49,"z":11.5,"c":4,"s":1},{"d":49,"z":14,"c":0,"s":3},{"d":45,"z":17.5,"c":1,"s":2},{"d":57,"z":21,"c":0,"s":3}
    ],
    "sw2": [
      {"d":10.5,"z":11.5,"c":0,"s":2},{"d":12,"z":9.3,"c":3,"s":2},{"d":13,"z":11.8,"c":1,"s":2},{"d":14.5,"z":11.5,"c":3,"s":2},{"d":16,"z":10.5,"c":1,"s":2},{"d":18,"z":11.5,"c":0,"s":2},{"d":19,"z":14.5,"c":1,"s":2},{"d":20.5,"z":13.5,"c":0,"s":3},{"d":21,"z":4.8,"c":1,"s":2},{"d":22,"z":10.8,"c":0,"s":3},{"d":22.5,"z":14,"c":1,"s":2},{"d":21.5,"z":17,"c":0,"s":3},
      {"d":23,"z":8.5,"c":1,"s":2},{"d":23.5,"z":12,"c":0,"s":4},{"d":24,"z":15.5,"c":1,"s":3},{"d":24.5,"z":18,"c":0,"s":4},{"d":25,"z":10,"c":3,"s":2},{"d":25.5,"z":13.5,"c":1,"s":3},{"d":26,"z":7,"c":1,"s":2},{"d":26.5,"z":16.5,"c":0,"s":3},{"d":27,"z":11,"c":1,"s":3},{"d":27.5,"z":14,"c":3,"s":2},{"d":28,"z":18.5,"c":0,"s":4},{"d":28.5,"z":9.5,"c":0,"s":3},{"d":29,"z":12.5,"c":1,"s":3},{"d":29.5,"z":16,"c":0,"s":3},{"d":30,"z":6.5,"c":1,"s":2},{"d":30.5,"z":14.5,"c":3,"s":2},{"d":31,"z":10.5,"c":0,"s":3},{"d":31.5,"z":17.5,"c":1,"s":2},{"d":32,"z":12.5,"c":0,"s":4},{"d":32.5,"z":19.5,"c":1,"s":3},{"d":33,"z":8.5,"c":0,"s":3},{"d":33.5,"z":15,"c":3,"s":2},{"d":34,"z":11.5,"c":1,"s":3},{"d":34.5,"z":17.5,"c":0,"s":3},{"d":35,"z":13.5,"c":1,"s":3},{"d":35,"z":6,"c":1,"s":2},{"d":26,"z":20,"c":0,"s":4},{"d":30,"z":20.5,"c":0,"s":3},{"d":28,"z":7,"c":0,"s":3},{"d":33,"z":5.5,"c":1,"s":2},
      {"d":35.5,"z":10,"c":3,"s":2},{"d":36,"z":16,"c":0,"s":3},{"d":36.5,"z":12.5,"c":1,"s":3},{"d":37,"z":19.5,"c":0,"s":3},{"d":37.5,"z":14.5,"c":3,"s":2},{"d":38,"z":9,"c":1,"s":2},{"d":38.5,"z":11.5,"c":0,"s":3},{"d":39,"z":17,"c":1,"s":3},{"d":39.5,"z":13.5,"c":3,"s":2},{"d":40,"z":21,"c":0,"s":4},{"d":40.5,"z":15.5,"c":1,"s":3},{"d":41,"z":10.5,"c":0,"s":3},{"d":41.5,"z":18.5,"c":3,"s":2},{"d":42,"z":12.5,"c":1,"s":3},{"d":42.5,"z":16,"c":4,"s":2},{"d":43,"z":8,"c":1,"s":2},{"d":43.5,"z":14,"c":0,"s":3},{"d":44,"z":19,"c":3,"s":2},{"d":44.5,"z":11,"c":1,"s":3},{"d":45,"z":15.5,"c":3,"s":2},{"d":45.5,"z":13,"c":0,"s":3},{"d":46,"z":17.5,"c":1,"s":3},{"d":46.5,"z":9.5,"c":3,"s":2},{"d":47,"z":14.5,"c":3,"s":2},{"d":47.5,"z":19,"c":1,"s":3},{"d":48,"z":12,"c":4,"s":2},{"d":38,"z":5,"c":1,"s":2},{"d":44,"z":5.5,"c":3,"s":1},{"d":46,"z":7.5,"c":0,"s":2},{"d":41,"z":20.5,"c":0,"s":3},
      {"d":48.5,"z":15.5,"c":4,"s":2},{"d":49,"z":10.5,"c":3,"s":2},{"d":49.5,"z":17,"c":4,"s":2},{"d":50,"z":13,"c":4,"s":2},{"d":50.5,"z":8.5,"c":3,"s":1},{"d":51,"z":15,"c":4,"s":2},{"d":51.5,"z":11.5,"c":3,"s":2},{"d":52,"z":18,"c":4,"s":2},{"d":52,"z":13.5,"c":4,"s":2},{"d":52.5,"z":16,"c":4,"s":2},{"d":53,"z":9.5,"c":3,"s":2},{"d":53.5,"z":14.5,"c":4,"s":2},{"d":54,"z":12,"c":4,"s":2},{"d":54,"z":17.5,"c":4,"s":2},{"d":54.5,"z":15,"c":4,"s":2},{"d":55,"z":10,"c":4,"s":1},{"d":55.5,"z":13.5,"c":4,"s":2},{"d":55.5,"z":16.5,"c":4,"s":2},{"d":56,"z":18.5,"c":1,"s":3},{"d":56.5,"z":12,"c":4,"s":2},{"d":56.5,"z":15,"c":4,"s":2},{"d":57,"z":14,"c":4,"s":2},{"d":57.5,"z":17,"c":4,"s":2},{"d":57.5,"z":10.5,"c":3,"s":2},{"d":58,"z":13,"c":4,"s":2},{"d":58.5,"z":15.5,"c":4,"s":2},{"d":58.5,"z":18.5,"c":3,"s":2},{"d":59,"z":11.5,"c":4,"s":2},{"d":59.5,"z":14,"c":4,"s":2},{"d":59.5,"z":16.5,"c":4,"s":2},{"d":60,"z":12.5,"c":4,"s":2},{"d":60.5,"z":15,"c":4,"s":2},{"d":60.5,"z":18,"c":3,"s":2},{"d":61,"z":13.5,"c":4,"s":2},{"d":61.5,"z":10.5,"c":3,"s":2},{"d":61.5,"z":16,"c":4,"s":2},{"d":62,"z":14.5,"c":4,"s":2},{"d":50,"z":19.5,"c":3,"s":2},{"d":53,"z":20,"c":1,"s":3},{"d":55,"z":3.2,"c":4,"s":1},{"d":56,"z":5.5,"c":1,"s":3},{"d":56.5,"z":3.5,"c":3,"s":2},{"d":59,"z":6.5,"c":3,"s":2},{"d":60,"z":7.5,"c":4,"s":1},{"d":52,"z":5.5,"c":4,"s":1},{"d":49,"z":3,"c":4,"s":1},
      {"d":62.5,"z":17.5,"c":3,"s":2},{"d":63,"z":12,"c":4,"s":2},{"d":63.5,"z":15.5,"c":3,"s":2},{"d":64,"z":9.5,"c":1,"s":3},{"d":64,"z":18.5,"c":1,"s":3},{"d":64.5,"z":13.5,"c":4,"s":2},{"d":65,"z":16.5,"c":3,"s":2},{"d":65.5,"z":11,"c":3,"s":2},{"d":66,"z":14.5,"c":1,"s":3},{"d":66,"z":21.3,"c":4,"s":1},{"d":66.5,"z":9,"c":4,"s":1},{"d":67,"z":13,"c":3,"s":2},{"d":67.5,"z":16,"c":1,"s":2},{"d":68,"z":11.5,"c":4,"s":1},{"d":68.5,"z":14,"c":3,"s":2},{"d":69,"z":8.5,"c":3,"s":1},{"d":69.5,"z":12,"c":1,"s":2},{"d":70,"z":15,"c":4,"s":1},{"d":70.5,"z":10.5,"c":3,"s":2},{"d":71,"z":13.5,"c":4,"s":1},{"d":71.5,"z":7,"c":4,"s":1},{"d":72,"z":11.5,"c":3,"s":1},{"d":72.5,"z":14,"c":4,"s":1},{"d":73,"z":8,"c":4,"s":1},{"d":65,"z":7,"c":1,"s":2},{"d":63,"z":20,"c":1,"s":3},{"d":67.5,"z":8,"c":1,"s":2},
      {"d":23.8,"z":13.8,"c":0,"s":3},{"d":24.8,"z":11.2,"c":1,"s":3},{"d":25.8,"z":15.2,"c":0,"s":4},{"d":26.8,"z":12.8,"c":1,"s":3},{"d":27.8,"z":16.5,"c":0,"s":3},{"d":28.8,"z":14.5,"c":0,"s":3},{"d":29.8,"z":11.5,"c":3,"s":2},{"d":30.8,"z":16.8,"c":0,"s":3},{"d":31.8,"z":13.2,"c":1,"s":3},{"d":32.8,"z":15.8,"c":0,"s":3},{"d":33.8,"z":12.8,"c":0,"s":4},{"d":34.8,"z":15.5,"c":1,"s":3},{"d":35.8,"z":13.8,"c":0,"s":3},{"d":36.8,"z":11,"c":1,"s":3},{"d":37.8,"z":16.8,"c":0,"s":3},{"d":38.8,"z":14.2,"c":1,"s":3},{"d":39.8,"z":11.8,"c":0,"s":3},{"d":40.8,"z":17.2,"c":1,"s":3},{"d":41.8,"z":14.5,"c":0,"s":3},{"d":42.8,"z":11.5,"c":3,"s":2},{"d":43.8,"z":16.5,"c":0,"s":3},{"d":44.8,"z":13.5,"c":1,"s":3},{"d":45.8,"z":10.8,"c":0,"s":3},{"d":46.8,"z":15.8,"c":3,"s":2},{"d":47.8,"z":17.5,"c":0,"s":3},{"d":48.8,"z":13,"c":4,"s":2},{"d":49.8,"z":15.5,"c":4,"s":2},{"d":50.8,"z":12,"c":4,"s":2},{"d":51.2,"z":17,"c":4,"s":2},{"d":51.8,"z":14,"c":3,"s":2},{"d":52.8,"z":12,"c":4,"s":2},{"d":53.2,"z":16.8,"c":4,"s":2},{"d":53.8,"z":11,"c":4,"s":2},{"d":54.8,"z":13.5,"c":4,"s":2},{"d":55.2,"z":16,"c":4,"s":2},{"d":55.8,"z":14.8,"c":3,"s":2},{"d":56.2,"z":13,"c":4,"s":2},{"d":56.8,"z":16.8,"c":4,"s":2},{"d":57.2,"z":12.5,"c":4,"s":2},{"d":57.8,"z":15.5,"c":4,"s":2},{"d":58.2,"z":11.5,"c":4,"s":2},{"d":58.8,"z":14,"c":4,"s":2},{"d":59.2,"z":17.5,"c":4,"s":2},{"d":59.8,"z":13,"c":4,"s":2},{"d":60.2,"z":16,"c":4,"s":2},{"d":60.8,"z":11.5,"c":4,"s":2},{"d":61.2,"z":14.5,"c":4,"s":2},{"d":61.8,"z":17.8,"c":4,"s":2},{"d":62.2,"z":12.5,"c":4,"s":2},{"d":62.8,"z":15.8,"c":4,"s":2},{"d":63.2,"z":13.8,"c":4,"s":2},{"d":63.8,"z":17,"c":3,"s":2},{"d":64.2,"z":11.5,"c":4,"s":2},{"d":64.8,"z":15,"c":4,"s":2},{"d":65.2,"z":13,"c":3,"s":2},{"d":65.8,"z":17.5,"c":1,"s":3},{"d":66.2,"z":12,"c":4,"s":2},{"d":66.8,"z":15.5,"c":3,"s":2},{"d":67.2,"z":10.5,"c":4,"s":1},{"d":68.2,"z":13.2,"c":3,"s":2},{"d":53.5,"z":18.8,"c":4,"s":2},{"d":57,"z":18.5,"c":4,"s":2},{"d":50.5,"z":17.8,"c":4,"s":2},{"d":46,"z":12,"c":1,"s":3},{"d":39,"z":15.5,"c":0,"s":4},{"d":34,"z":9.5,"c":1,"s":3}
    ],
    "sw3": [
      {"d":6.5,"z":13,"c":1,"s":2},{"d":8.5,"z":11.5,"c":1,"s":3},{"d":9,"z":15,"c":0,"s":4},{"d":9.5,"z":16,"c":1,"s":3},{"d":10,"z":13.5,"c":0,"s":2},{"d":12.5,"z":16,"c":1,"s":2},{"d":13.5,"z":12.5,"c":0,"s":4},{"d":14.5,"z":14.5,"c":1,"s":3},{"d":15,"z":17,"c":1,"s":2},{"d":16,"z":16.5,"c":0,"s":2},{"d":17,"z":17,"c":1,"s":3},{"d":18,"z":16.5,"c":0,"s":3},{"d":19,"z":11,"c":1,"s":2},{"d":20,"z":14.5,"c":0,"s":3},{"d":21,"z":13,"c":1,"s":2},{"d":21.5,"z":17.5,"c":0,"s":3},{"d":22,"z":11.5,"c":1,"s":2},{"d":22.5,"z":16,"c":0,"s":3},{"d":23.5,"z":12.5,"c":3,"s":2},{"d":24,"z":10.5,"c":0,"s":4},{"d":24.5,"z":19.5,"c":1,"s":2},{"d":21,"z":19.5,"c":3,"s":3},{"d":20,"z":15.8,"c":1,"s":2},
      {"d":25,"z":14,"c":0,"s":3},{"d":25.5,"z":17,"c":1,"s":3},{"d":26,"z":11,"c":0,"s":4},{"d":26.5,"z":15.5,"c":3,"s":2},{"d":27,"z":19,"c":0,"s":3},{"d":27.5,"z":12.5,"c":1,"s":3},{"d":28,"z":9.5,"c":0,"s":3},{"d":28.5,"z":16.5,"c":1,"s":3},{"d":29,"z":13.5,"c":0,"s":4},{"d":29.5,"z":18.5,"c":3,"s":2},{"d":30,"z":11,"c":1,"s":3},{"d":30.5,"z":15,"c":0,"s":3},{"d":31,"z":20,"c":1,"s":3},{"d":31.5,"z":13,"c":3,"s":2},{"d":32,"z":9,"c":0,"s":3},{"d":32.5,"z":17,"c":1,"s":3},{"d":33,"z":14.5,"c":0,"s":4},{"d":33.5,"z":11.5,"c":3,"s":2},{"d":34,"z":19,"c":0,"s":3},{"d":34.5,"z":15.5,"c":1,"s":3},{"d":35,"z":12.5,"c":3,"s":2},{"d":35.5,"z":17.5,"c":1,"s":3},{"d":36,"z":9.5,"c":0,"s":3},{"d":36.5,"z":14.5,"c":3,"s":2},{"d":37,"z":20,"c":1,"s":3},{"d":37.5,"z":16,"c":0,"s":4},{"d":38,"z":11.5,"c":1,"s":3},{"d":38.5,"z":18,"c":3,"s":2},{"d":39,"z":13.5,"c":3,"s":2},{"d":39.5,"z":4,"c":0,"s":3},{"d":40,"z":17,"c":1,"s":3},{"d":34,"z":5,"c":0,"s":3},{"d":37,"z":4.5,"c":0,"s":3},{"d":30,"z":7,"c":1,"s":2},{"d":36,"z":21.5,"c":0,"s":3},{"d":28,"z":21.5,"c":1,"s":2},{"d":33,"z":23,"c":1,"s":2},
      {"d":40.5,"z":10.5,"c":3,"s":2},{"d":41,"z":14.5,"c":3,"s":2},{"d":41.5,"z":19,"c":1,"s":3},{"d":42,"z":12,"c":0,"s":3},{"d":42.5,"z":16.5,"c":3,"s":2},{"d":43,"z":9,"c":1,"s":2},{"d":43.5,"z":15,"c":3,"s":2},{"d":44,"z":18.5,"c":0,"s":3},{"d":44.5,"z":12.5,"c":3,"s":2},{"d":45,"z":3,"c":4,"s":1},{"d":45,"z":16,"c":3,"s":2},{"d":45.5,"z":10,"c":1,"s":3},{"d":46,"z":19.5,"c":1,"s":3},{"d":46.5,"z":14,"c":4,"s":2},{"d":47,"z":11.5,"c":3,"s":2},{"d":47.5,"z":17.5,"c":3,"s":2},{"d":48,"z":8.5,"c":1,"s":2},{"d":48.5,"z":13,"c":3,"s":2},{"d":49,"z":16,"c":4,"s":2},{"d":49.5,"z":19,"c":1,"s":3},{"d":50,"z":11,"c":3,"s":2},{"d":50.5,"z":14.5,"c":4,"s":2},{"d":51,"z":17,"c":3,"s":2},{"d":51.5,"z":9,"c":3,"s":2},{"d":52,"z":15.5,"c":4,"s":2},{"d":52.5,"z":12.5,"c":1,"s":3},{"d":53,"z":18.5,"c":3,"s":2},{"d":53.5,"z":14,"c":4,"s":2},{"d":54,"z":10,"c":3,"s":2},{"d":54.5,"z":16.5,"c":4,"s":2},{"d":55,"z":13,"c":3,"s":2},{"d":44,"z":24,"c":4,"s":1},{"d":49,"z":6,"c":4,"s":1},{"d":50,"z":5,"c":1,"s":2},{"d":53,"z":8,"c":4,"s":1},{"d":47,"z":21,"c":0,"s":3},
      {"d":55.5,"z":18,"c":1,"s":3},{"d":56,"z":11.5,"c":4,"s":2},{"d":56.5,"z":15,"c":4,"s":2},{"d":57,"z":19.5,"c":1,"s":3},{"d":57.5,"z":13,"c":3,"s":2},{"d":58,"z":16.5,"c":4,"s":1},{"d":58.5,"z":9.5,"c":3,"s":2},{"d":59,"z":12.5,"c":4,"s":2},{"d":59.5,"z":20,"c":1,"s":3},{"d":60,"z":14.5,"c":3,"s":2},{"d":60.5,"z":8.5,"c":4,"s":1},{"d":61,"z":11,"c":4,"s":2},{"d":61.5,"z":17,"c":4,"s":2},{"d":62,"z":13.5,"c":4,"s":2},{"d":62.5,"z":15.5,"c":3,"s":2},{"d":63,"z":10,"c":4,"s":2},{"d":63.5,"z":18.5,"c":1,"s":3},{"d":64,"z":12.5,"c":4,"s":2},{"d":64.5,"z":16,"c":4,"s":2},{"d":65,"z":14,"c":4,"s":2},{"d":65.5,"z":9.5,"c":3,"s":2},{"d":66,"z":11.5,"c":4,"s":2},{"d":66.5,"z":17,"c":4,"s":2},{"d":67,"z":13.5,"c":4,"s":2},{"d":67.5,"z":15.5,"c":4,"s":2},{"d":68,"z":10.5,"c":3,"s":2},{"d":68.5,"z":12,"c":4,"s":2},{"d":69,"z":16.5,"c":4,"s":2},{"d":69.5,"z":14,"c":4,"s":2},{"d":70,"z":8,"c":4,"s":1},{"d":70,"z":18.5,"c":3,"s":2},{"d":70.5,"z":11.5,"c":4,"s":2},{"d":71,"z":13,"c":4,"s":2},{"d":71.5,"z":16,"c":4,"s":2},{"d":72,"z":9.5,"c":3,"s":2},{"d":72.5,"z":14.5,"c":4,"s":2},{"d":73,"z":17.5,"c":3,"s":2},{"d":73.5,"z":12.5,"c":4,"s":2},{"d":74,"z":15,"c":4,"s":1},{"d":74.5,"z":10.5,"c":3,"s":2},{"d":75,"z":16.5,"c":4,"s":1},{"d":75.5,"z":13.5,"c":3,"s":2},{"d":76,"z":11,"c":4,"s":1},{"d":76.5,"z":17,"c":1,"s":2},{"d":77,"z":14,"c":3,"s":2},{"d":77.5,"z":22.5,"c":4,"s":1},{"d":78,"z":16,"c":3,"s":1},{"d":79,"z":15,"c":1,"s":3},{"d":79.5,"z":20,"c":4,"s":1},{"d":64,"z":6.5,"c":3,"s":1},{"d":68,"z":7,"c":1,"s":2},{"d":66,"z":6,"c":4,"s":1},{"d":60,"z":4,"c":4,"s":1},{"d":57,"z":20.5,"c":1,"s":3},{"d":62,"z":20,"c":4,"s":1},
      {"d":25.8,"z":12.2,"c":1,"s":3},{"d":26.8,"z":17.8,"c":0,"s":3},{"d":27.8,"z":14.8,"c":0,"s":4},{"d":28.8,"z":11.8,"c":1,"s":3},{"d":29.8,"z":16,"c":0,"s":3},{"d":30.8,"z":13,"c":0,"s":3},{"d":31.8,"z":17.5,"c":1,"s":3},{"d":32.8,"z":11.5,"c":0,"s":3},{"d":33.8,"z":16.2,"c":3,"s":2},{"d":34.8,"z":13.2,"c":0,"s":3},{"d":35.8,"z":15.5,"c":0,"s":4},{"d":36.8,"z":12,"c":1,"s":3},{"d":37.8,"z":14,"c":0,"s":3},{"d":38.8,"z":16.5,"c":1,"s":3},{"d":39.8,"z":12,"c":0,"s":3},{"d":40.8,"z":15.8,"c":1,"s":3},{"d":41.8,"z":13.5,"c":0,"s":3},{"d":42.8,"z":18.2,"c":1,"s":3},{"d":43.8,"z":12.8,"c":3,"s":2},{"d":44.8,"z":14.5,"c":0,"s":3},{"d":45.8,"z":17.2,"c":3,"s":2},{"d":46.8,"z":12.8,"c":1,"s":3},{"d":47.8,"z":15.5,"c":4,"s":2},{"d":48.8,"z":18,"c":0,"s":3},{"d":49.8,"z":13.8,"c":3,"s":2},{"d":50.8,"z":16,"c":1,"s":3},{"d":51.8,"z":12.2,"c":4,"s":2},{"d":52.8,"z":14,"c":3,"s":2},{"d":53.8,"z":16.2,"c":1,"s":3},{"d":54.8,"z":18,"c":3,"s":2},{"d":55.8,"z":14.2,"c":4,"s":2},{"d":56.8,"z":17,"c":3,"s":2},{"d":57.8,"z":11.8,"c":4,"s":2},{"d":58.8,"z":14.8,"c":4,"s":2},{"d":59.8,"z":17.2,"c":4,"s":2},{"d":60.8,"z":12.8,"c":4,"s":2},{"d":61.8,"z":15,"c":4,"s":2},{"d":62.8,"z":11.8,"c":4,"s":2},{"d":63.8,"z":14.5,"c":4,"s":2},{"d":64.8,"z":11,"c":4,"s":2},{"d":65.8,"z":15.5,"c":4,"s":2},{"d":66.8,"z":12.8,"c":4,"s":2},{"d":67.8,"z":16.8,"c":4,"s":2},{"d":68.8,"z":14.2,"c":4,"s":2},{"d":69.8,"z":12.5,"c":4,"s":2},{"d":70.8,"z":15,"c":4,"s":2},{"d":71.8,"z":12.2,"c":4,"s":2},{"d":72.8,"z":16,"c":4,"s":2},{"d":73.8,"z":13.8,"c":4,"s":2},{"d":74.8,"z":17.5,"c":4,"s":2},{"d":75.8,"z":15,"c":4,"s":2},{"d":65.2,"z":18.2,"c":4,"s":2},{"d":68.2,"z":18.8,"c":3,"s":2},{"d":61.2,"z":19,"c":3,"s":2}
    ],
    "sw4": [
      {"d":5,"z":13.5,"c":0,"s":2},{"d":6,"z":12,"c":1,"s":2},{"d":7.5,"z":11.5,"c":1,"s":3},{"d":7.5,"z":5.8,"c":0,"s":3},{"d":8,"z":8,"c":0,"s":3},{"d":8.5,"z":15,"c":0,"s":4},{"d":9,"z":10,"c":1,"s":3},{"d":9.5,"z":14,"c":3,"s":2},{"d":10,"z":12,"c":0,"s":4},{"d":10.5,"z":16.5,"c":1,"s":3},{"d":11,"z":9,"c":0,"s":3},{"d":11.5,"z":13,"c":3,"s":2},{"d":12,"z":18,"c":1,"s":2},{"d":12,"z":11,"c":0,"s":4},{"d":12.5,"z":15,"c":1,"s":3},{"d":13,"z":12.5,"c":3,"s":2},{"d":13.5,"z":10,"c":1,"s":3},{"d":14,"z":17,"c":0,"s":4},{"d":14,"z":14.5,"c":3,"s":2},{"d":14.5,"z":12,"c":1,"s":3},{"d":15,"z":19,"c":3,"s":2},{"d":15.5,"z":13.5,"c":0,"s":4},{"d":16,"z":10.5,"c":1,"s":3},{"d":16.5,"z":16,"c":3,"s":2},{"d":17,"z":12.5,"c":0,"s":3},{"d":17.5,"z":8,"c":0,"s":3},{"d":18,"z":15,"c":3,"s":2},{"d":18.5,"z":19.5,"c":3,"s":2},{"d":18.5,"z":11,"c":1,"s":3},{"d":19,"z":13.5,"c":3,"s":2},{"d":19,"z":6,"c":4,"s":1},{"d":19.5,"z":17,"c":1,"s":3},{"d":20,"z":10,"c":0,"s":3},{"d":10,"z":19,"c":0,"s":3},{"d":6.5,"z":17,"c":0,"s":2},{"d":16,"z":20,"c":1,"s":2},
      {"d":20.5,"z":14.5,"c":3,"s":2},{"d":21,"z":12,"c":0,"s":4},{"d":21.5,"z":16.5,"c":3,"s":2},{"d":22,"z":19,"c":1,"s":3},{"d":22.5,"z":10.5,"c":1,"s":3},{"d":23,"z":13.5,"c":3,"s":2},{"d":23,"z":2.5,"c":0,"s":3},{"d":23.5,"z":5,"c":1,"s":2},{"d":23.5,"z":21.5,"c":3,"s":2},{"d":24,"z":15.5,"c":0,"s":4},{"d":24.5,"z":12,"c":3,"s":2},{"d":25,"z":17.5,"c":1,"s":3},{"d":25.5,"z":9.5,"c":0,"s":3},{"d":26,"z":14,"c":3,"s":2},{"d":26,"z":22,"c":3,"s":1},{"d":26.5,"z":11.5,"c":4,"s":2},{"d":27,"z":16.5,"c":1,"s":3},{"d":27.5,"z":13,"c":0,"s":3},{"d":28,"z":18.5,"c":3,"s":2},{"d":28.5,"z":10.5,"c":1,"s":2},{"d":29,"z":14.5,"c":3,"s":2},{"d":29.5,"z":8,"c":4,"s":2},{"d":30,"z":19.5,"c":1,"s":3},{"d":30.5,"z":12.5,"c":3,"s":2},{"d":31,"z":15.5,"c":0,"s":3},{"d":31,"z":7.5,"c":1,"s":2},{"d":32,"z":11,"c":3,"s":2},{"d":32.5,"z":17,"c":3,"s":2},{"d":33,"z":14,"c":1,"s":3},{"d":33.5,"z":19.5,"c":3,"s":2},{"d":34,"z":12.5,"c":0,"s":3},{"d":35,"z":16,"c":3,"s":2},{"d":27,"z":5,"c":1,"s":2},{"d":29,"z":3,"c":3,"s":1},
      {"d":35.5,"z":14,"c":3,"s":2},{"d":36,"z":10.5,"c":1,"s":3},{"d":36.5,"z":17.5,"c":3,"s":2},{"d":37,"z":13,"c":0,"s":3},{"d":37.5,"z":19.5,"c":3,"s":2},{"d":38,"z":11.5,"c":3,"s":2},{"d":38.5,"z":15.5,"c":0,"s":4},{"d":39,"z":8.5,"c":3,"s":2},{"d":39,"z":18,"c":1,"s":3},{"d":39.5,"z":13.5,"c":3,"s":2},{"d":40,"z":7.5,"c":0,"s":3},{"d":40,"z":16.5,"c":3,"s":2},{"d":40.5,"z":11,"c":1,"s":3},{"d":41,"z":19.5,"c":3,"s":2},{"d":41.5,"z":14,"c":0,"s":3},{"d":42,"z":9.5,"c":3,"s":2},{"d":42,"z":17,"c":3,"s":2},{"d":42.5,"z":12.5,"c":1,"s":3},{"d":43,"z":15.5,"c":3,"s":2},{"d":43.5,"z":20,"c":0,"s":3},{"d":43.5,"z":6,"c":1,"s":2},{"d":44,"z":10,"c":4,"s":2},{"d":44.5,"z":14,"c":3,"s":2},{"d":44.5,"z":1.5,"c":4,"s":1},{"d":45,"z":17.5,"c":4,"s":2},{"d":45,"z":3,"c":3,"s":1},{"d":45.5,"z":12,"c":1,"s":3},{"d":46,"z":19,"c":4,"s":2},{"d":46,"z":7,"c":1,"s":3},{"d":46.5,"z":15,"c":4,"s":2},{"d":47,"z":11,"c":3,"s":2},{"d":47,"z":22.5,"c":4,"s":1},{"d":47.5,"z":17.5,"c":4,"s":2},{"d":48,"z":13.5,"c":1,"s":3},{"d":48,"z":4.5,"c":3,"s":2},{"d":48.5,"z":19.5,"c":4,"s":2},{"d":49,"z":9,"c":1,"s":2},{"d":49,"z":16,"c":4,"s":2},{"d":49.5,"z":12,"c":3,"s":2},{"d":50,"z":18,"c":4,"s":2},{"d":50.5,"z":14.5,"c":3,"s":2},{"d":50.5,"z":6.5,"c":1,"s":3},{"d":51,"z":20.5,"c":1,"s":3},{"d":51.5,"z":10.5,"c":3,"s":2},{"d":52,"z":15,"c":1,"s":3},{"d":52.5,"z":8,"c":0,"s":3},{"d":53,"z":12.5,"c":4,"s":1},{"d":53.5,"z":3,"c":1,"s":3},{"d":53.5,"z":21,"c":0,"s":4},{"d":55,"z":15,"c":4,"s":2},{"d":55.5,"z":2.5,"c":4,"s":1},{"d":57.5,"z":4,"c":4,"s":1},{"d":54,"z":11,"c":4,"s":1},{"d":51,"z":1.5,"c":4,"s":1},{"d":52,"z":2,"c":3,"s":1},{"d":69.5,"z":19.5,"c":0,"s":3},
      {"d":9,"z":12.8,"c":0,"s":3},{"d":11,"z":14.5,"c":0,"s":3},{"d":13,"z":15.8,"c":0,"s":3},{"d":15,"z":11.5,"c":0,"s":3},{"d":17,"z":14.2,"c":0,"s":4},{"d":19,"z":16,"c":0,"s":3},{"d":21,"z":14,"c":1,"s":3},{"d":23,"z":16.2,"c":0,"s":3},{"d":25,"z":13,"c":0,"s":3},{"d":27,"z":15,"c":0,"s":3},{"d":29,"z":12.5,"c":1,"s":3},{"d":31,"z":13.8,"c":0,"s":3},{"d":33,"z":16.8,"c":0,"s":3},{"d":38,"z":14.5,"c":0,"s":3},{"d":40,"z":13,"c":3,"s":2},{"d":42,"z":15.2,"c":0,"s":3},{"d":44,"z":16.5,"c":3,"s":2},{"d":46,"z":13.5,"c":3,"s":2},{"d":48,"z":16.8,"c":4,"s":2},{"d":49,"z":18.5,"c":3,"s":2},{"d":50,"z":15.8,"c":4,"s":2},{"d":47,"z":18.8,"c":4,"s":2},{"d":45.5,"z":16,"c":1,"s":3}
    ]
  },
  "spacing": 5,
  "vconcat": [
    {
      "width": 700, "height": 20,
      "data": {"values": [{}]},
      "mark": {"type": "text", "align": "left", "baseline": "alphabetic", "fontSize": 26, "dy": 5},
      "encoding": {
        "x": {"datum": 19.648, "type": "quantitative", "scale": {"domain": [19.6862, 21.739], "nice": false, "zero": false},
              "axis": {"orient": "top", "values": [20, 20.2, 20.4, 20.6, 20.8, 21, 21.2], "format": ".3~g", "domain": false, "ticks": false, "labelFontSize": 18, "labelPadding": 0, "title": null}},
        "text": {"value": "b)"}
      }
    },
    {
      "spacing": 18,
      "hconcat": [
        {
          "spacing": 18,
          "vconcat": [
            {
              "width": 318, "height": 105,
              "layer": [
                {"data": {"name": "nw1"}, "mark": {"type": "point"},
                 "encoding": {
                   "x": {"field": "d", "type": "quantitative", "scale": {"domain": [0, 90], "nice": false, "zero": false}, "axis": {"orient": "top", "values": [0,10,20,30,40,50,60,70,80,90], "labelExpr": "datum.value === 0 ? 'NW1' : datum.value === 90 ? 'SE1' : ''", "tickSize": 3, "labelPadding": 6, "labelFontSize": 15, "title": null}},
                   "y": {"field": "z", "type": "quantitative", "scale": {"domain": [0, 30], "reverse": true, "nice": false, "zero": false}, "axis": {"orient": "right", "values": [0,5,10,15,20,25,30], "labels": false, "tickSize": 5, "title": null}},
                   "color": {"field": "c", "type": "quantitative", "scale": {"domain": [0, 4], "range": ["#d8c27a", "#c2a874", "#9c8493", "#5a48a6", "#2518a8"]}, "legend": null},
                   "size": {"field": "s", "type": "quantitative", "scale": {"domain": [1, 4], "range": [7, 60]}, "legend": null}
                 }},
                {"data": {"name": "nw1L"}, "mark": {"type": "line", "strokeWidth": 1.8},
                 "encoding": {
                   "x": {"field": "d", "type": "quantitative", "scale": {"domain": [0, 90], "nice": false, "zero": false}, "axis": {"orient": "bottom", "values": [0,10,20,30,40,50,60,70,80,90], "tickSize": 4, "labelPadding": 2, "title": null}},
                   "y": {"field": "z", "type": "quantitative", "scale": {"domain": [0, 30], "reverse": true, "nice": false, "zero": false}, "axis": {"orient": "left", "values": [0,10,20,30], "tickSize": 4, "labelPadding": 1, "title": "Depth (km)", "titlePadding": 3, "grid": true, "gridColor": "#aaaaaa"}},
                   "stroke": {"field": "k", "type": "nominal", "scale": {"domain": ["t", "m", "r"], "range": ["#111111", "#1430e6", "#ee1c1c"]}, "legend": null},
                   "strokeDash": {"field": "k", "type": "nominal", "scale": {"domain": ["t", "m", "r"], "range": [[1, 0], [10, 5], [1, 0]]}, "legend": null}
                 }},
                {"data": {"values": [{}]}, "mark": {"type": "text", "align": "left", "baseline": "middle", "fontSize": 16},
                 "encoding": {"x": {"datum": 2.5, "type": "quantitative", "axis": null}, "y": {"datum": 25.7, "type": "quantitative", "axis": null}, "text": {"value": "±14km"}}}
              ],
              "resolve": {"axis": {"x": "independent", "y": "independent"}}
            },
            {
              "width": 318, "height": 105,
              "layer": [
                {"data": {"name": "nw2"}, "mark": {"type": "point"},
                 "encoding": {
                   "x": {"field": "d", "type": "quantitative", "scale": {"domain": [0, 90], "nice": false, "zero": false}, "axis": {"orient": "top", "values": [0,10,20,30,40,50,60,70,80,90], "labelExpr": "datum.value === 0 ? 'NW2' : datum.value === 90 ? 'SE2' : ''", "tickSize": 3, "labelPadding": 6, "labelFontSize": 15, "title": null}},
                   "y": {"field": "z", "type": "quantitative", "scale": {"domain": [0, 30], "reverse": true, "nice": false, "zero": false}, "axis": {"orient": "right", "values": [0,5,10,15,20,25,30], "labels": false, "tickSize": 5, "title": null}},
                   "color": {"field": "c", "type": "quantitative", "scale": {"domain": [0, 4], "range": ["#d8c27a", "#c2a874", "#9c8493", "#5a48a6", "#2518a8"]}, "legend": null},
                   "size": {"field": "s", "type": "quantitative", "scale": {"domain": [1, 4], "range": [7, 60]}, "legend": null}
                 }},
                {"data": {"name": "nw2L"}, "mark": {"type": "line", "strokeWidth": 1.8},
                 "encoding": {
                   "x": {"field": "d", "type": "quantitative", "scale": {"domain": [0, 90], "nice": false, "zero": false}, "axis": {"orient": "bottom", "values": [0,10,20,30,40,50,60,70,80,90], "tickSize": 4, "labelPadding": 2, "title": null}},
                   "y": {"field": "z", "type": "quantitative", "scale": {"domain": [0, 30], "reverse": true, "nice": false, "zero": false}, "axis": {"orient": "left", "values": [0,10,20,30], "tickSize": 4, "labelPadding": 1, "title": "Depth (km)", "titlePadding": 3, "grid": true, "gridColor": "#aaaaaa"}},
                   "stroke": {"field": "k", "type": "nominal", "scale": {"domain": ["t", "m", "r"], "range": ["#111111", "#1430e6", "#ee1c1c"]}, "legend": null},
                   "strokeDash": {"field": "k", "type": "nominal", "scale": {"domain": ["t", "m", "r"], "range": [[1, 0], [10, 5], [1, 0]]}, "legend": null}
                 }},
                {"data": {"values": [{}]}, "mark": {"type": "text", "align": "left", "baseline": "middle", "fontSize": 16},
                 "encoding": {"x": {"datum": 2.5, "type": "quantitative", "axis": null}, "y": {"datum": 22.5, "type": "quantitative", "axis": null}, "text": {"value": "±10km"}}}
              ],
              "resolve": {"axis": {"x": "independent", "y": "independent"}}
            },
            {
              "width": 318, "height": 105,
              "layer": [
                {"data": {"name": "nw3"}, "mark": {"type": "point"},
                 "encoding": {
                   "x": {"field": "d", "type": "quantitative", "scale": {"domain": [0, 90], "nice": false, "zero": false}, "axis": {"orient": "top", "values": [0,10,20,30,40,50,60,70,80,90], "labelExpr": "datum.value === 0 ? 'NW3' : datum.value === 90 ? 'SE3' : ''", "tickSize": 3, "labelPadding": 6, "labelFontSize": 15, "title": null}},
                   "y": {"field": "z", "type": "quantitative", "scale": {"domain": [0, 30], "reverse": true, "nice": false, "zero": false}, "axis": {"orient": "right", "values": [0,5,10,15,20,25,30], "labels": false, "tickSize": 5, "title": null}},
                   "color": {"field": "c", "type": "quantitative", "scale": {"domain": [0, 4], "range": ["#d8c27a", "#c2a874", "#9c8493", "#5a48a6", "#2518a8"]}, "legend": null},
                   "size": {"field": "s", "type": "quantitative", "scale": {"domain": [1, 4], "range": [7, 60]}, "legend": null}
                 }},
                {"data": {"name": "nw3L"}, "mark": {"type": "line", "strokeWidth": 1.8},
                 "encoding": {
                   "x": {"field": "d", "type": "quantitative", "scale": {"domain": [0, 90], "nice": false, "zero": false}, "axis": {"orient": "bottom", "values": [0,10,20,30,40,50,60,70,80,90], "tickSize": 4, "labelPadding": 2, "title": "Distance (km)", "titlePadding": 2}},
                   "y": {"field": "z", "type": "quantitative", "scale": {"domain": [0, 30], "reverse": true, "nice": false, "zero": false}, "axis": {"orient": "left", "values": [0,10,20,30], "tickSize": 4, "labelPadding": 1, "title": "Depth (km)", "titlePadding": 3, "grid": true, "gridColor": "#aaaaaa"}},
                   "stroke": {"field": "k", "type": "nominal", "scale": {"domain": ["t", "m", "r"], "range": ["#111111", "#1430e6", "#ee1c1c"]}, "legend": null},
                   "strokeDash": {"field": "k", "type": "nominal", "scale": {"domain": ["t", "m", "r"], "range": [[1, 0], [10, 5], [1, 0]]}, "legend": null}
                 }},
                {"data": {"values": [{}]}, "mark": {"type": "text", "align": "left", "baseline": "middle", "fontSize": 16},
                 "encoding": {"x": {"datum": 2.5, "type": "quantitative", "axis": null}, "y": {"datum": 25.4, "type": "quantitative", "axis": null}, "text": {"value": "±12km"}}}
              ],
              "resolve": {"axis": {"x": "independent", "y": "independent"}}
            }
          ]
        },
        {
          "spacing": 22,
          "vconcat": [
            {
              "width": 284, "height": 113,
              "layer": [
                {"data": {"name": "sw1"}, "mark": {"type": "point"},
                 "encoding": {
                   "x": {"field": "d", "type": "quantitative", "scale": {"domain": [0, 75], "nice": false, "zero": false}, "axis": {"orient": "top", "values": [0,10,20,30,40,50,60,70,75], "labelExpr": "datum.value === 0 ? 'SW1' : datum.value === 75 ? 'NE1' : ''", "tickSize": 3, "labelPadding": 6, "labelFontSize": 15, "title": null}},
                   "y": {"field": "z", "type": "quantitative", "scale": {"domain": [0, 30], "reverse": true, "nice": false, "zero": false}, "axis": {"orient": "left", "values": [0,10,20,30], "labels": false, "tickSize": 4, "title": null, "grid": true, "gridColor": "#9a9a9a"}},
                   "color": {"field": "c", "type": "quantitative", "scale": {"domain": [0, 4], "range": ["#d8c27a", "#c2a874", "#9c8493", "#5a48a6", "#2518a8"]}, "legend": null},
                   "size": {"field": "s", "type": "quantitative", "scale": {"domain": [1, 4], "range": [7, 60]}, "legend": null}
                 }},
                {"data": {"name": "sw1L"}, "mark": {"type": "line", "strokeWidth": 1.8},
                 "encoding": {
                   "x": {"field": "d", "type": "quantitative", "scale": {"domain": [0, 75], "nice": false, "zero": false}, "axis": {"orient": "bottom", "values": [0,10,20,30,40,50,60,70], "tickSize": 4, "labelPadding": 2, "title": null, "grid": true, "gridColor": {"condition": {"test": "datum.value === 20 || datum.value === 60 || datum.value === 70", "value": "#8f8f8f"}, "value": "#d2cfc5"}}},
                   "y": {"field": "z", "type": "quantitative", "scale": {"domain": [0, 30], "reverse": true, "nice": false, "zero": false}, "axis": {"orient": "right", "values": [0,5,10,15,20,25,30], "labelExpr": "datum.value % 10 === 0 ? datum.label : ''", "tickSize": 5, "labelPadding": 3, "title": "Depth (km)", "titleAngle": 270, "titleBaseline": "top", "titlePadding": 6}},
                   "stroke": {"field": "k", "type": "nominal", "scale": {"domain": ["t", "m", "r"], "range": ["#111111", "#1430e6", "#ee1c1c"]}, "legend": null},
                   "strokeDash": {"field": "k", "type": "nominal", "scale": {"domain": ["t", "m", "r"], "range": [[1, 0], [10, 5], [1, 0]]}, "legend": null}
                 }},
                {"data": {"values": [{}]}, "mark": {"type": "text", "align": "left", "baseline": "middle", "fontSize": 16},
                 "encoding": {"x": {"datum": 2.4, "type": "quantitative", "axis": null}, "y": {"datum": 25.5, "type": "quantitative", "axis": null}, "text": {"value": "±12km"}}}
              ],
              "resolve": {"axis": {"x": "independent", "y": "independent"}}
            },
            {
              "width": 284, "height": 113,
              "layer": [
                {"data": {"name": "sw2"}, "mark": {"type": "point"},
                 "encoding": {
                   "x": {"field": "d", "type": "quantitative", "scale": {"domain": [0, 75], "nice": false, "zero": false}, "axis": {"orient": "top", "values": [0,10,20,30,40,50,60,70,75], "labelExpr": "datum.value === 0 ? 'SW2' : datum.value === 75 ? 'NE2' : ''", "tickSize": 3, "labelPadding": 6, "labelFontSize": 15, "title": null}},
                   "y": {"field": "z", "type": "quantitative", "scale": {"domain": [0, 30], "reverse": true, "nice": false, "zero": false}, "axis": {"orient": "left", "values": [0,10,20,30], "labels": false, "tickSize": 4, "title": null, "grid": true, "gridColor": "#9a9a9a"}},
                   "color": {"field": "c", "type": "quantitative", "scale": {"domain": [0, 4], "range": ["#d8c27a", "#c2a874", "#9c8493", "#5a48a6", "#2518a8"]}, "legend": null},
                   "size": {"field": "s", "type": "quantitative", "scale": {"domain": [1, 4], "range": [7, 60]}, "legend": null}
                 }},
                {"data": {"name": "sw2L"}, "mark": {"type": "line", "strokeWidth": 1.8},
                 "encoding": {
                   "x": {"field": "d", "type": "quantitative", "scale": {"domain": [0, 75], "nice": false, "zero": false}, "axis": {"orient": "bottom", "values": [0,10,20,30,40,50,60,70], "tickSize": 4, "labelPadding": 2, "title": null, "grid": true, "gridColor": {"condition": {"test": "datum.value === 20 || datum.value === 60 || datum.value === 70", "value": "#8f8f8f"}, "value": "#d2cfc5"}}},
                   "y": {"field": "z", "type": "quantitative", "scale": {"domain": [0, 30], "reverse": true, "nice": false, "zero": false}, "axis": {"orient": "right", "values": [0,5,10,15,20,25,30], "labelExpr": "datum.value % 10 === 0 ? datum.label : ''", "tickSize": 5, "labelPadding": 3, "title": "Depth (km)", "titleAngle": 270, "titleBaseline": "top", "titlePadding": 6}},
                   "stroke": {"field": "k", "type": "nominal", "scale": {"domain": ["t", "m", "r"], "range": ["#111111", "#1430e6", "#ee1c1c"]}, "legend": null},
                   "strokeDash": {"field": "k", "type": "nominal", "scale": {"domain": ["t", "m", "r"], "range": [[1, 0], [10, 5], [1, 0]]}, "legend": null}
                 }},
                {"data": {"values": [{}]}, "mark": {"type": "text", "align": "left", "baseline": "middle", "fontSize": 16},
                 "encoding": {"x": {"datum": 2.4, "type": "quantitative", "axis": null}, "y": {"datum": 25.2, "type": "quantitative", "axis": null}, "text": {"value": "±12km"}}}
              ],
              "resolve": {"axis": {"x": "independent", "y": "independent"}}
            },
            {
              "width": 302, "height": 113,
              "layer": [
                {"data": {"name": "sw3"}, "mark": {"type": "point"},
                 "encoding": {
                   "x": {"field": "d", "type": "quantitative", "scale": {"domain": [0, 80], "nice": false, "zero": false}, "axis": {"orient": "top", "values": [0,10,20,30,40,50,60,70,80], "labelExpr": "datum.value === 0 ? 'SW3' : datum.value === 80 ? 'NE3' : ''", "tickSize": 3, "labelPadding": 6, "labelFontSize": 15, "title": null}},
                   "y": {"field": "z", "type": "quantitative", "scale": {"domain": [0, 30], "reverse": true, "nice": false, "zero": false}, "axis": {"orient": "left", "values": [0,10,20,30], "labels": false, "tickSize": 4, "title": null, "grid": true, "gridColor": "#9a9a9a"}},
                   "color": {"field": "c", "type": "quantitative", "scale": {"domain": [0, 4], "range": ["#d8c27a", "#c2a874", "#9c8493", "#5a48a6", "#2518a8"]}, "legend": null},
                   "size": {"field": "s", "type": "quantitative", "scale": {"domain": [1, 4], "range": [7, 60]}, "legend": null}
                 }},
                {"data": {"name": "sw3L"}, "mark": {"type": "line", "strokeWidth": 1.8},
                 "encoding": {
                   "x": {"field": "d", "type": "quantitative", "scale": {"domain": [0, 80], "nice": false, "zero": false}, "axis": {"orient": "bottom", "values": [0,10,20,30,40,50,60,70,80], "tickSize": 4, "labelPadding": 2, "title": null, "grid": true, "gridColor": {"condition": {"test": "datum.value === 20 || datum.value === 60 || datum.value === 70", "value": "#8f8f8f"}, "value": "#d2cfc5"}}},
                   "y": {"field": "z", "type": "quantitative", "scale": {"domain": [0, 30], "reverse": true, "nice": false, "zero": false}, "axis": {"orient": "right", "values": [0,5,10,15,20,25,30], "labelExpr": "datum.value % 10 === 0 ? datum.label : ''", "tickSize": 5, "labelPadding": 3, "title": "Depth (km)", "titleAngle": 270, "titleBaseline": "top", "titlePadding": 6}},
                   "stroke": {"field": "k", "type": "nominal", "scale": {"domain": ["t", "m", "r"], "range": ["#111111", "#1430e6", "#ee1c1c"]}, "legend": null},
                   "strokeDash": {"field": "k", "type": "nominal", "scale": {"domain": ["t", "m", "r"], "range": [[1, 0], [10, 5], [1, 0]]}, "legend": null}
                 }},
                {"data": {"values": [{}]}, "mark": {"type": "text", "align": "left", "baseline": "middle", "fontSize": 16},
                 "encoding": {"x": {"datum": 2.1, "type": "quantitative", "axis": null}, "y": {"datum": 25.0, "type": "quantitative", "axis": null}, "text": {"value": "±7.5km"}}}
              ],
              "resolve": {"axis": {"x": "independent", "y": "independent"}}
            },
            {
              "width": 302, "height": 113,
              "layer": [
                {"data": {"name": "sw4"}, "mark": {"type": "point"},
                 "encoding": {
                   "x": {"field": "d", "type": "quantitative", "scale": {"domain": [0, 80], "nice": false, "zero": false}, "axis": {"orient": "top", "values": [0,10,20,30,40,50,60,70,80], "labelExpr": "datum.value === 0 ? 'SW4' : datum.value === 80 ? 'NE4' : ''", "tickSize": 3, "labelPadding": 6, "labelFontSize": 15, "title": null}},
                   "y": {"field": "z", "type": "quantitative", "scale": {"domain": [0, 30], "reverse": true, "nice": false, "zero": false}, "axis": {"orient": "left", "values": [0,10,20,30], "labels": false, "tickSize": 4, "title": null, "grid": true, "gridColor": "#9a9a9a"}},
                   "color": {"field": "c", "type": "quantitative", "scale": {"domain": [0, 4], "range": ["#d8c27a", "#c2a874", "#9c8493", "#5a48a6", "#2518a8"]}, "legend": null},
                   "size": {"field": "s", "type": "quantitative", "scale": {"domain": [1, 4], "range": [7, 60]}, "legend": null}
                 }},
                {"data": {"name": "sw4L"}, "mark": {"type": "line", "strokeWidth": 1.8},
                 "encoding": {
                   "x": {"field": "d", "type": "quantitative", "scale": {"domain": [0, 80], "nice": false, "zero": false}, "axis": {"orient": "bottom", "values": [0,10,20,30,40,50,60,70,80], "tickSize": 4, "labelPadding": 2, "title": "Distance (km)", "titlePadding": 2, "grid": true, "gridColor": {"condition": {"test": "datum.value === 20 || datum.value === 60 || datum.value === 70", "value": "#8f8f8f"}, "value": "#d2cfc5"}}},
                   "y": {"field": "z", "type": "quantitative", "scale": {"domain": [0, 30], "reverse": true, "nice": false, "zero": false}, "axis": {"orient": "right", "values": [0,5,10,15,20,25,30], "labelExpr": "datum.value % 10 === 0 ? datum.label : ''", "tickSize": 5, "labelPadding": 3, "title": "Depth (km)", "titleAngle": 270, "titleBaseline": "top", "titlePadding": 6}},
                   "stroke": {"field": "k", "type": "nominal", "scale": {"domain": ["t", "m", "r"], "range": ["#111111", "#1430e6", "#ee1c1c"]}, "legend": null},
                   "strokeDash": {"field": "k", "type": "nominal", "scale": {"domain": ["t", "m", "r"], "range": [[1, 0], [10, 5], [1, 0]]}, "legend": null}
                 }},
                {"data": {"values": [{}]}, "mark": {"type": "text", "align": "left", "baseline": "middle", "fontSize": 16},
                 "encoding": {"x": {"datum": 2.4, "type": "quantitative", "axis": null}, "y": {"datum": 25.5, "type": "quantitative", "axis": null}, "text": {"value": "±10km"}}}
              ],
              "resolve": {"axis": {"x": "independent", "y": "independent"}}
            }
          ]
        }
      ]
    }
  ]
}
